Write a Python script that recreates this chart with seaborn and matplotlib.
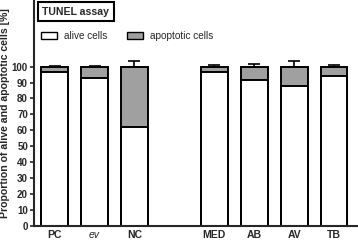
import matplotlib
matplotlib.use("Agg")
import matplotlib.pyplot as plt
import seaborn as sns
import pandas as pd
import numpy as np
from matplotlib.patches import Patch

categories = ["PC", "ev", "NC", "MED", "AB", "AV", "TB"]
positions = [0, 1, 2, 4, 5, 6, 7]
alive = [96.4, 92.6, 62.0, 96.6, 91.8, 87.6, 94.1]
total = [100, 100, 100, 100, 100, 100, 100]
err = [0.6, 0.6, 3.8, 1.2, 2.0, 3.6, 1.2]
yticks = list(range(0, 101, 10))

sns.set_style("ticks")
plt.rcParams['font.family'] = ['Liberation Sans', 'DejaVu Sans']

df = pd.DataFrame({"pos": positions, "cat": categories, "alive": alive,
                   "total": total, "err": err})

fig = plt.figure(figsize=(3.58, 2.42), dpi=100)
ax = fig.add_axes([0.0936, 0.068, 0.9064, 0.932])

gray = "#a0a0a0"
sns.barplot(data=df, x="pos", y="total", native_scale=True, width=0.67,
            color=gray, edgecolor="black", linewidth=1.4, saturation=1, ax=ax)
sns.barplot(data=df, x="pos", y="alive", native_scale=True, width=0.67,
            color="white", edgecolor="black", linewidth=1.4, saturation=1, ax=ax)
ax.errorbar(df["pos"], df["total"], yerr=[np.zeros(len(err)), df["err"]],
            fmt="none", ecolor="black", elinewidth=1.2, capsize=4, capthick=1.2)

ax.set_xlim(-0.53, 7.6)
ax.set_ylim(0, 142)
ax.set_yticks(yticks)
ax.set_yticklabels([str(t) for t in yticks], fontsize=7, fontweight="bold")
ax.set_xticks(positions)
ax.set_xticklabels(categories, fontsize=7.5, fontweight="bold")
for lbl in ax.get_xticklabels():
    if lbl.get_text() == "ev":
        lbl.set_fontweight("normal")
        lbl.set_fontstyle("italic")
ax.tick_params(axis="x", length=0, pad=3.5)
ax.tick_params(axis="y", length=3, width=1.2, pad=1)
for s in ["top", "right"]:
    ax.spines[s].set_visible(False)
for s in ["left", "bottom"]:
    ax.spines[s].set_linewidth(1.5)
ax.set_xlabel("")
ax.set_ylabel("Proportion of alive and apoptotic cells [%]", fontsize=7.6,
              fontweight="bold")
ax.yaxis.set_label_coords(-0.072, 0.5)

ax.text(0.027, 0.97, "TUNEL assay", transform=ax.transAxes, fontsize=7.6,
        fontweight="bold", va="top", ha="left",
        bbox=dict(boxstyle="square,pad=0.42", facecolor="white",
                  edgecolor="black", linewidth=1.5))

handles = [Patch(facecolor="white", edgecolor="black", linewidth=1.0, label="alive cells"),
           Patch(facecolor=gray, edgecolor="black", linewidth=1.0, label="apoptotic cells")]
ax.legend(handles=handles, loc="upper left", bbox_to_anchor=(0.0, 0.895),
          ncol=2, frameon=False, fontsize=7.2, handlelength=1.6, handleheight=0.75,
          columnspacing=2.0, handletextpad=0.7, borderaxespad=0.3)

fig.savefig("out.png", dpi=100)
